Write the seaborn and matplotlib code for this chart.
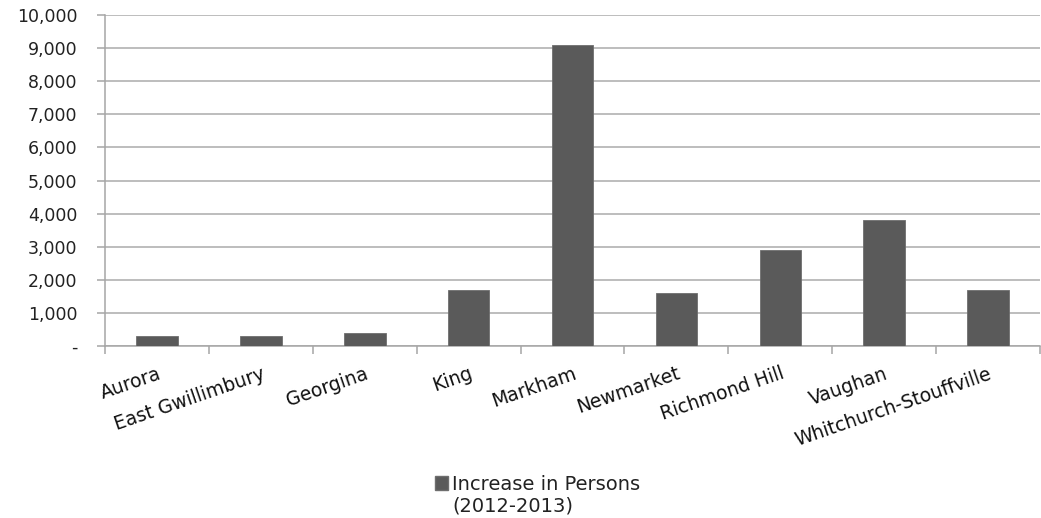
import matplotlib
matplotlib.use("Agg")
import matplotlib.pyplot as plt
import matplotlib.ticker as mticker
from matplotlib.patches import Patch
import seaborn as sns
import pandas as pd
import numpy as np

categories = ["Aurora", "East Gwillimbury", "Georgina", "King", "Markham",
              "Newmarket", "Richmond Hill", "Vaughan", "Whitchurch-Stouffville"]
increase = [300, 300, 400, 1700, 9100, 1600, 2900, 3800, 1700]
legend_line1 = "Increase in Persons"
legend_line2 = "(2012-2013)"
y_ticks = [0, 1000, 2000, 3000, 4000, 5000, 6000, 7000, 8000, 9000, 10000]

sns.set_theme(style="white")
plt.rcParams['font.family'] = ['DejaVu Sans']

df = pd.DataFrame({"Municipality": categories, "Increase": increase})

fig = plt.figure(figsize=(10.41, 5.18), dpi=100)
ax = fig.add_axes([0.101, 0.332, 0.898, 0.639])

bar_color = "#5a5a5a"
sns.barplot(data=df, x="Municipality", y="Increase", color=bar_color,
            width=0.4, ax=ax, saturation=1, edgecolor="#6e6e6e", linewidth=0.6, zorder=3)

ax.set_ylim(0, 10000)
ax.set_xlim(-0.5, len(categories) - 0.5)
ax.set_yticks(y_ticks)
ax.yaxis.set_major_formatter(mticker.FuncFormatter(lambda v, p: "-" if v == 0 else f"{int(v):,}"))
ax.yaxis.grid(True, color="#ababab", linewidth=1.1, zorder=0)
ax.set_axisbelow(True)
ax.set_xlabel("")
ax.set_ylabel("")

for s in ["top", "right"]:
    ax.spines[s].set_visible(False)
for s in ["left", "bottom"]:
    ax.spines[s].set_color("#a6a6a6")
    ax.spines[s].set_linewidth(1.1)

ax.tick_params(axis="y", which="major", length=6, color="#a6a6a6", width=1.1,
               pad=14, labelsize=12.5, labelcolor="#222222", left=True)
ax.tick_params(axis="x", which="major", length=0, pad=13, labelsize=13.5, labelcolor="#111111")
ax.set_xticks(np.arange(-0.5, len(categories), 1.0), minor=True)
ax.tick_params(axis="x", which="minor", length=6, color="#a6a6a6", width=1.1, bottom=True)

for lbl in ax.get_xticklabels():
    lbl.set_rotation(19)
    lbl.set_ha("right")
    lbl.set_va("top")
    lbl.set_rotation_mode("anchor")

handle = Patch(facecolor=bar_color, edgecolor="#6e6e6e")
leg = fig.legend([handle], [legend_line1], loc="center left",
                 bbox_to_anchor=(427.0 / 1041, 1 - 484.0 / 518), frameon=False,
                 fontsize=14, handlelength=0.7, handleheight=0.7,
                 handletextpad=0.2, borderaxespad=0)
fig.text(452.0 / 1041, 1 - 506.0 / 518, legend_line2, fontsize=14, color="#222222",
         ha="left", va="center")
for t in leg.get_texts():
    t.set_color("#222222")

fig.savefig("out.png", dpi=100)
